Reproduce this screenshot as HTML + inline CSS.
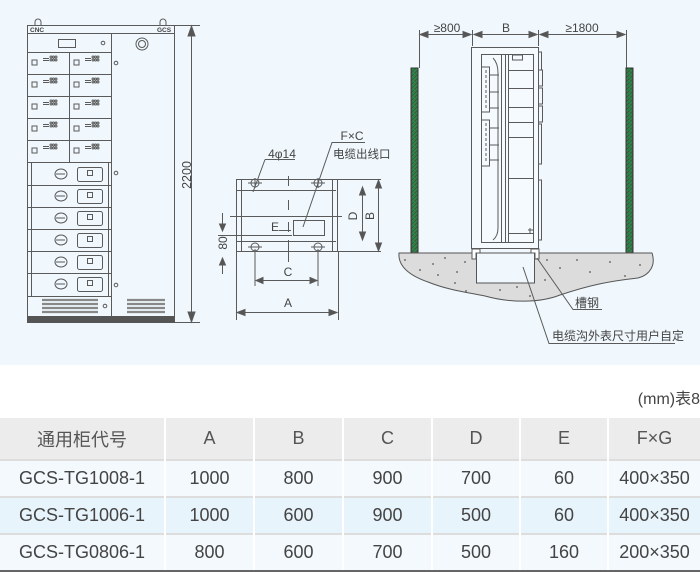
<!DOCTYPE html>
<html><head><meta charset="utf-8"><style>
body{margin:0;width:700px;height:572px;background:#fff;font-family:"Liberation Sans","Noto Sans CJK SC",sans-serif;overflow:hidden;position:relative}
.top{position:absolute;left:0;top:0;width:700px;height:365px;background:#f0f8fd}
svg{position:absolute;left:0;top:0}
table{position:absolute;left:0;top:418px;width:700px;border-collapse:collapse;font-family:"Liberation Sans","Noto Sans CJK SC",sans-serif;color:#444;font-size:18px}
td{text-align:center;border-left:2px solid #fff;border-top:2px solid #ddd;padding:0}
td:first-child{border-left:none}
tr.h td{background:#ececec;height:41px;border-top:none;color:#555}
tr.a td{background:#f3f9fd;height:35px}
tr.b td{background:#e8f4fb;height:35px}
tr:last-child td{border-bottom:2px solid #666}
.unit{position:absolute;right:0;top:385px;font-size:16px;color:#444}
</style></head><body>
<div class="top"></div>
<svg width="700" height="365" viewBox="0 0 700 365" fill="none" stroke="#5a5a5a" stroke-width="1" font-family="Liberation Sans, Noto Sans CJK SC, sans-serif">
<path d="M35 25 v-3 a3 3 0 0 1 6 0 v3 M160 25 v-3 a3 3 0 0 1 6 0 v3"/>
<rect x="27.5" y="25.5" width="147" height="297" />
<line x1="27" y1="33.5" x2="175" y2="33.5"/>
<text x="30" y="32" font-size="6.5" fill="#444" stroke="none" font-weight="bold">CNC</text>
<text x="157" y="32" font-size="6.5" fill="#444" stroke="none" font-weight="bold">GCS</text>
<line x1="111.5" y1="33" x2="111.5" y2="316"/>
<rect x="58.5" y="39.5" width="17" height="8"/>
<circle cx="103" cy="43" r="1.8"/>
<circle cx="142" cy="44" r="6"/><circle cx="142" cy="44" r="3.5"/>
<line x1="27" y1="52.5" x2="111" y2="52.5"/>
<g id="dr">
<rect x="32" y="60" width="5" height="5"/>
<path d="M43 58.5 h6 M43 60.5 h6"/>
<circle cx="51" cy="57" r="1"/><circle cx="53.5" cy="57" r="1"/><circle cx="56" cy="57" r="1"/><circle cx="51" cy="60" r="1"/><circle cx="53.5" cy="60" r="1"/><circle cx="56" cy="60" r="1"/>
</g>
<use href="#dr" x="42"/>
<line x1="27" y1="74.5" x2="111" y2="74.5"/>
<use href="#dr" y="22"/><use href="#dr" x="42" y="22"/>
<line x1="27" y1="96.5" x2="111" y2="96.5"/>
<use href="#dr" y="44"/><use href="#dr" x="42" y="44"/>
<line x1="27" y1="118.5" x2="111" y2="118.5"/>
<use href="#dr" y="66"/><use href="#dr" x="42" y="66"/>
<line x1="27" y1="140.5" x2="111" y2="140.5"/>
<use href="#dr" y="88"/><use href="#dr" x="42" y="88"/>
<line x1="27" y1="162.5" x2="111" y2="162.5"/>
<line x1="69.5" y1="52" x2="69.5" y2="162"/>
<line x1="31.5" y1="163" x2="31.5" y2="296"/><line x1="108.5" y1="163" x2="108.5" y2="296"/>
<g id="sw">
<ellipse cx="61" cy="174" rx="6" ry="5"/><path d="M56 174 h9"/>
<rect x="77.5" y="167.5" width="25" height="14" rx="2"/>
<rect x="87.5" y="170.5" width="5" height="5"/>
</g>
<use href="#sw" y="22"/><use href="#sw" y="44"/><use href="#sw" y="66"/><use href="#sw" y="88"/><use href="#sw" y="110"/>
<path d="M27 185.5 h84 M27 207.5 h84 M27 229.5 h84 M27 251.5 h84 M27 273.5 h84 M27 296.5 h84"/>
<circle cx="116" cy="63" r="1.8"/><circle cx="116" cy="173" r="1.8"/><circle cx="116" cy="285" r="1.8"/><circle cx="105" cy="306" r="1.8"/>
<g stroke="#888" stroke-width="2.2">
<path d="M42 300 h56 M42 304 h56 M42 308 h56 M42 312 h56"/>
<path d="M127 300 h38 M127 304 h38 M127 308 h38 M127 312 h38"/>
</g>
<rect x="27" y="316" width="148" height="7" fill="#555" stroke="none"/>
<path d="M175 25.5 h25 M175 322.5 h25 M191.5 27 v294"/>
<path d="M188 36 l3.5 -10 l3.5 10z M188 312 l3.5 10 l3.5 -10z" fill="#555"/>
<text transform="translate(191 175) rotate(-90)" font-size="12.5" fill="#444" stroke="none" text-anchor="middle">2200</text>
<rect x="236.5" y="179.5" width="101" height="72"/>
<path d="M241.5 179 v72 M332.5 179 v72 M236 190.5 h100 M236 241.5 h100 M338 179.5 h43 M338 251.5 h43"/>
<g><circle cx="255" cy="183" r="4"/><circle cx="318" cy="183" r="4"/><circle cx="255" cy="247" r="4"/><circle cx="318" cy="247" r="4"/>
<path d="M248 183 h14 M311 183 h14 M248 247 h14 M311 247 h14 M255 249 v37 M318 249 v37 M255 178 v10 M318 178 v10"/></g>
<path d="M288.5 176 v10 M288.5 200 v10 M288.5 222 v10 M288.5 240 v22" />
<path d="M230 216.5 h112"/>
<rect x="293.5" y="220.5" width="31" height="15"/>
<text x="271" y="231" font-size="12" fill="#444" stroke="none">E</text>
<path d="M279 230.5 h12 M218 235.5 h74"/>
<path d="M222.5 213 v17 M222.5 258 v16" />
<path d="M219.5 224 l3 7 l3 -7z M219.5 265 l3 -7 l3 7z" fill="#555"/>
<text transform="translate(227 243) rotate(-90)" font-size="12" fill="#444" stroke="none" text-anchor="middle">80</text>
<path d="M362.5 188 v51 M378.5 181 v69"/>
<path d="M359.5 195 l3 -8 l3 8z M359.5 232 l3 8 l3 -8z M375.5 188 l3 -8 l3 8z M375.5 243 l3 8 l3 -8z" fill="#555"/>
<text transform="translate(357 216) rotate(-90)" font-size="12" fill="#444" stroke="none" text-anchor="middle">D</text>
<text transform="translate(374 216) rotate(-90)" font-size="12" fill="#444" stroke="none" text-anchor="middle">B</text>
<path d="M257 280.5 h59"/><path d="M263 277.5 l-7 3 l7 3z M310 277.5 l7 3 l-7 3z" fill="#555"/>
<text x="288" y="276" font-size="12" fill="#444" stroke="none" text-anchor="middle">C</text>
<path d="M236.5 251 v69 M338.5 251 v69 M238 312.5 h99"/><path d="M245 309.5 l-8 3 l8 3z M329 309.5 l8 3 l-8 3z" fill="#555"/>
<text x="288" y="307" font-size="12" fill="#444" stroke="none" text-anchor="middle">A</text>
<text x="282" y="158" font-size="12" fill="#444" stroke="none" text-anchor="middle">4φ14</text>
<path d="M265 159.5 h30 M265 159.5 L253 192"/>
<text x="352" y="140" font-size="12" fill="#444" stroke="none" text-anchor="middle">F×C</text>
<text x="333" y="158" font-size="11.5" fill="#444" stroke="none">电缆出线口</text>
<path d="M365 142.5 h-33 L303 227"/>
<path d="M419.5 30 v38 M472.5 30 v16 M538.5 30 v16 M626.5 30 v38 M420 34.5 h51 M474 34.5 h63 M540 34.5 h85"/>
<path d="M428 31.5 l-8 3 l8 3z M463 31.5 l8 3 l-8 3z M482 31.5 l-8 3 l8 3z M529 31.5 l8 3 l-8 3z M548 31.5 l-8 3 l8 3z M617 31.5 l8 3 l-8 3z" fill="#555"/>
<text x="447" y="32" font-size="12" fill="#444" stroke="none" text-anchor="middle">≥800</text>
<text x="506" y="32" font-size="12" fill="#444" stroke="none" text-anchor="middle">B</text>
<text x="582" y="32" font-size="12" fill="#444" stroke="none" text-anchor="middle">≥1800</text>
<defs><pattern id="hp" width="4" height="4" patternUnits="userSpaceOnUse"><rect width="4" height="4" fill="#1f9a40"/><path d="M0 4 L4 0" stroke="#116a2a" stroke-width="0.7"/></pattern></defs>
<rect x="411" y="68" width="7" height="185" fill="url(#hp)" stroke="#333"/>
<rect x="626" y="68" width="7" height="185" fill="url(#hp)" stroke="#333"/>
<path d="M399 253 H652 C656 265 650 275 638 278 C610 281 590 285 560 295 C540 303 510 303 485 296 C465 292 448 290 428 282 C408 275 398 265 399 253z" fill="#dcdcdc" stroke="#555"/>
<rect x="476.5" y="253" width="58" height="30" fill="#f0f8fd" stroke="#555"/>
<g fill="#555" stroke="none"><circle cx="405" cy="260" r=".9"/><circle cx="420" cy="270" r=".9"/><circle cx="433" cy="264" r=".9"/><circle cx="445" cy="258" r=".9"/><circle cx="457" cy="272" r=".9"/><circle cx="465" cy="262" r=".9"/><circle cx="455" cy="283" r=".9"/><circle cx="466" cy="291" r=".9"/><circle cx="500" cy="290" r=".9"/><circle cx="517" cy="287" r=".9"/><circle cx="547" cy="260" r=".9"/><circle cx="560" cy="268" r=".9"/><circle cx="577" cy="260" r=".9"/><circle cx="590" cy="272" r=".9"/><circle cx="610" cy="262" r=".9"/><circle cx="625" cy="276" r=".9"/><circle cx="640" cy="265" r=".9"/><circle cx="545" cy="280" r=".9"/><circle cx="438" cy="275" r=".9"/><circle cx="530" cy="296" r=".9"/></g>
<path d="M472 249 h8 v4 h-4 v6 h-4z M539 249 h-8 v4 h4 v6 h4z" fill="#fff"/>
<rect x="471.5" y="47.5" width="67" height="201" fill="#f4fafd"/>
<rect x="481.5" y="54.5" width="52" height="188"/>
<path d="M493 58 q5 5 5 15 v155 q0 8 -5 12 M501.5 55 v187 M505.5 55 v187 M508.5 55 v187"/>
<path d="M509 70.5 h24 M509 88.5 h24 M509 107.5 h24 M509 122.5 h24 M509 137.5 h24 M509 178.5 h24 M509 233.5 h24"/>
<rect x="512.5" y="55" width="10" height="5"/>
<path d="M481.5 67 h8 v45 h-8 M481.5 120 h8 v46 h-8 M489 75 h10 M489 92 h10 M489 108 h10 M489 128 h10 M489 145 h10 M489 160 h10"/>
<path d="M486 70 v40 M486 123 v40" stroke-dasharray="3 2"/>
<path d="M538.5 52 h3 v18 h-3 M538.5 70 h4 v16 h-4 M538.5 88 h4 v16 h-4 M538.5 106 h4 v16 h-4 M538.5 124 h3 v40 h-3 M538.5 180 h3 v60 h-3"/>
<path d="M528 230 h5 M530 228 v5"/>
<text x="575" y="307" font-size="12" fill="#444" stroke="none">槽钢</text>
<path d="M537 258 L573 309.5 H602"/>
<text x="552" y="340" font-size="12" fill="#444" stroke="none">电缆沟外表尺寸用户自定</text>
<path d="M523 267 L549 343.5 H675"/>
</svg>
<div class="unit">(mm)表8</div>
<table>
<colgroup><col style="width:165px"><col style="width:89px"><col style="width:89px"><col style="width:89px"><col style="width:88px"><col style="width:88px"><col></colgroup>
<tr class="h"><td>通用柜代号</td><td>A</td><td>B</td><td>C</td><td>D</td><td>E</td><td>F×G</td></tr>
<tr class="a"><td>GCS-TG1008-1</td><td>1000</td><td>800</td><td>900</td><td>700</td><td>60</td><td>400×350</td></tr>
<tr class="b"><td>GCS-TG1006-1</td><td>1000</td><td>600</td><td>900</td><td>500</td><td>60</td><td>400×350</td></tr>
<tr class="a"><td>GCS-TG0806-1</td><td>800</td><td>600</td><td>700</td><td>500</td><td>160</td><td>200×350</td></tr>
</table>
</body></html>
